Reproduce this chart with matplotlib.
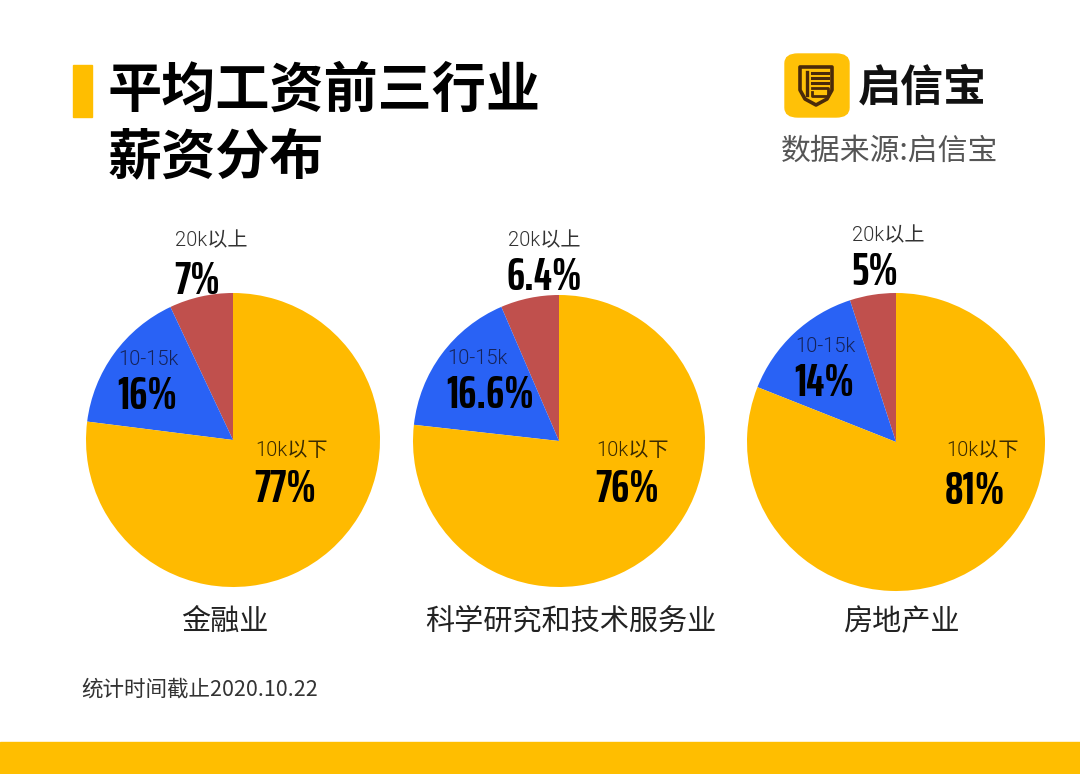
import matplotlib
matplotlib.use("Agg")
import matplotlib.pyplot as plt
from matplotlib.patches import FancyBboxPatch, Rectangle, Polygon
import numpy as np

plt.rcParams['font.family'] = ['Noto Sans CJK SC', 'DejaVu Sans']

# data
industries = ['金融业', '科学研究和技术服务业', '房地产业']
bands = ['20k以上', '10-15k', '10k以下']
share_20k = [7, 6.4, 5]
share_10_15k = [16, 16.6, 14]
share_below_10k = [77, 76, 81]
pct_labels = [['7%', '16%', '77%'],
              ['6.4%', '16.6%', '76%'],
              ['5%', '14%', '81%']]

colors = ['#C0504D', '#2962F5', '#FFBA00']
YELLOW = '#FFBE00'
PCT_FONT = ['Saira ExtraCondensed', 'Fira Sans Extra Condensed', 'DejaVu Sans']
LABEL_FONT = ['Roboto', 'Noto Sans CJK SC', 'DejaVu Sans']

W, H = 1080, 774
fig = plt.figure(figsize=(W / 100, H / 100), dpi=100)
fig.patch.set_facecolor('white')


def px(x, y):
    # pixel coords (top-left origin) -> figure fraction
    return x / W, 1 - y / H


# pie centres and radii in pixels
pies = [(233, 440, 147), (559, 441, 146), (896, 442, 149)]

# label anchors (left x, label-centre y, pct-centre y) per slice
label_pos = [
    [(175, 241, 281), (118, 360, 397), (255, 450, 489)],
    [(508, 241, 277), (447, 358, 396), (596, 450, 489)],
    [(852, 236, 273), (795, 346, 384), (946, 450, 491)],
]
label_colors = ['#333333', '#15235a', '#3a2a00']
cat_x = [225, 571, 901]

for i, (cx, cy, r) in enumerate(pies):
    ax = fig.add_axes([(cx - r) / W, (H - cy - r) / H, 2 * r / W, 2 * r / H])
    vals = [share_20k[i], share_10_15k[i], share_below_10k[i]]
    ax.pie(vals, colors=colors, startangle=90, counterclock=True,
           wedgeprops=dict(linewidth=0))
    ax.set_xlim(-1, 1)
    ax.set_ylim(-1, 1)
    ax.set_aspect('equal')
    ax.axis('off')

    for j, (lx, ly, py) in enumerate(label_pos[i]):
        fig.text(*px(lx, ly), bands[j], fontsize=14.5, color=label_colors[j],
                 ha='left', va='center', fontweight=300, family=LABEL_FONT)
        fig.text(*px(lx - 1, py), pct_labels[i][j], fontsize=33,
                 fontweight='bold', color='black', ha='left', va='center',
                 family=PCT_FONT, fontstretch='condensed')

    fig.text(*px(cat_x[i], 622), industries[i], fontsize=21, color='#222222',
             ha='center', va='center')

# title with yellow marker
fig.patches.append(Rectangle(px(73, 117), 19 / W, 52 / H, transform=fig.transFigure,
                             color=YELLOW, zorder=2))
fig.text(*px(108, 91), '平均工资前三行业', fontsize=39, fontweight='bold',
         color='black', ha='left', va='center')
fig.text(*px(108, 158), '薪资分布', fontsize=39, fontweight='bold',
         color='black', ha='left', va='center')

# logo block
fig.patches.append(FancyBboxPatch(px(785, 117), 64 / W, 63 / H,
                                  boxstyle='round,pad=0,rounding_size=0.012',
                                  transform=fig.transFigure, color='#FFC107',
                                  zorder=2))
logo = fig.add_axes([797 / W, 1 - 108 / H, 38 / W, 44 / H], zorder=5)
logo.set_xlim(0, 38)
logo.set_ylim(0, 44)
logo.axis('off')
brown = '#4a2a0a'
shield = np.array([[3, 41], [35, 41], [35, 18], [30, 9], [19, 3], [8, 9], [3, 18]])
logo.add_patch(Polygon(shield, closed=True, fill=False, ec=brown, lw=2.6,
                       joinstyle='round'))
logo.plot([10, 10], [36, 13], color=brown, lw=2.4)
for yy in [35, 30, 25]:
    logo.plot([15, 31], [yy, yy], color=brown, lw=2.2)
logo.plot([15, 31, 31, 15, 15], [20, 20, 12, 12, 16], color=brown, lw=2.0)

fig.text(*px(858, 87), '启信宝', fontsize=31, fontweight='bold', color='#111111',
         ha='left', va='center')
fig.text(*px(781, 151), '数据来源:启信宝', fontsize=21.5, color='#555555',
         ha='left', va='center')

# footnote and bottom band
fig.text(*px(81, 690), '统计时间截止2020.10.22', fontsize=15.5, color='#333333',
         ha='left', va='center')
fig.patches.append(Rectangle((0, 0), 1, 32 / H, transform=fig.transFigure,
                             color=YELLOW, zorder=2))

fig.savefig('out.png', dpi=100, facecolor='white')
